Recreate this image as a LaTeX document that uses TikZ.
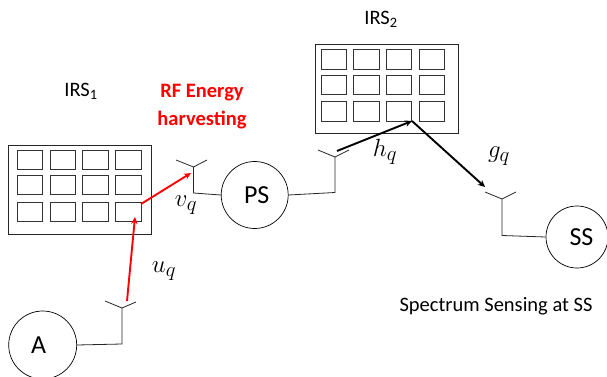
\documentclass[tikz,border=0pt]{standalone}
\usepackage{fontspec}
\setmainfont{Carlito}
\usetikzlibrary{arrows.meta}
\tikzset{
  panel/.style={draw=black!85,line width=0.9pt,fill=white,rectangle,minimum width=143pt,minimum height=89pt,inner sep=0pt},
  cell/.style={draw=black!80,line width=1pt,rectangle,minimum width=25.5pt,minimum height=19.5pt,inner sep=0pt},
  station/.style={draw,circle,line width=0.7pt,inner sep=0pt,fill=white},
  feed/.style={draw=black!85,line width=0.8pt},
  redlink/.style={draw=red,line width=1.9pt,-{Stealth[length=7pt,width=6.5pt]}},
  blacklink/.style={draw=black,line width=1.9pt,-{Stealth[length=7pt,width=6.5pt]}},
  lbl/.style={inner sep=0pt,font=\fontsize{20.5}{24}\selectfont},
  mathlbl/.style={inner sep=0pt,font=\fontsize{27.5}{30}\selectfont},
}
\begin{document}
\begin{tikzpicture}[x=1pt,y=-1pt]
\useasboundingbox (0,0) rectangle (607,377);
\clip (0,0) rectangle (607,377);
% panels
\node[panel] (irsa) at (79.5,189.5) {};
\node[panel] (irsb) at (387,88.5) {};
% cells of IRS1
\foreach \c/\x in {1/30,2/63,3/95.5,4/128.5}
  \foreach \r/\y in {1/160,2/185,3/212}
    \node[cell] (a\r\c) at (\x,\y) {};
% cells of IRS2
\foreach \c/\x in {1/334,2/366.5,3/399,4/432}
  \foreach \r/\y in {1/59.5,2/85,3/111.5}
    \node[cell] (b\r\c) at (\x,\y) {};
% stations
\node[station,minimum size=68pt,font=\fontsize{26}{30}\selectfont] (A) at (42.7,345) {A\kern8pt};
\node[station,minimum size=67pt,font=\fontsize{26}{30}\selectfont] (PS) at (254.7,195) {\kern4pt PS};
\node[station,minimum size=62pt,font=\fontsize{26}{30}\selectfont] (SS) at (577,237) {\kern9pt SS};
% antennas
\coordinate (ta) at (122,308); \coordinate (ja) at (122,344);
\coordinate (la) at (105,301); \coordinate (ra) at (136,302);
\coordinate (tb) at (193.5,167); \coordinate (jb) at (193.5,193);
\coordinate (lb) at (176,160); \coordinate (rb) at (207,160);
\coordinate (tc) at (335,157); \coordinate (jc) at (335,192.5);
\coordinate (lc) at (318,150); \coordinate (rc) at (349,150);
\coordinate (td) at (502,199); \coordinate (jd) at (502,235.5);
\coordinate (ld) at (485,192); \coordinate (rd) at (516,192);
\draw[feed] (A.east) -- (ja) -- (ta) (la) -- (ta) -- (ra);
\draw[feed] (PS.west) -- (jb) -- (tb) (lb) -- (tb) -- (rb);
\draw[feed] (PS.east) -- (jc) -- (tc) (lc) -- (tc) -- (rc);
\draw[feed] (SS.west) -- (jd) -- (td) (ld) -- (td) -- (rd);
% links
\coordinate (ua) at (127,301); \coordinate (ub) at (135,217);
\coordinate (va) at (141,204); \coordinate (vb) at (191,173);
\coordinate (ha) at (337,151); \coordinate (hb) at (412,121);
\coordinate (gb) at (485,187);
\draw[redlink] (ua) -- (ub);
\draw[redlink] (va) -- (vb);
\draw[blacklink] (ha) -- (hb);
\draw[blacklink] (hb) -- (gb);
% labels
\node[lbl] (la1) at (81,91) {IRS\textsubscript{1}};
\node[lbl] (la2) at (381,19) {IRS\textsubscript{2}};
\node[inner sep=0pt,text=red,align=center,font=\fontsize{20.5}{28}\selectfont\bfseries] (rf) at (202,106.5) {RF Energy\\harvesting};
\node[lbl] (ssl) at (496,306) {Spectrum Sensing at SS};
\node[mathlbl] (uq) at (164,271) {$u_q$};
\node[mathlbl] (vq) at (186,205) {$v_q$};
\node[mathlbl] (hq) at (385,152) {$h_q$};
\node[mathlbl] (gq) at (499,156) {$g_q$};
\end{tikzpicture}
\end{document}
